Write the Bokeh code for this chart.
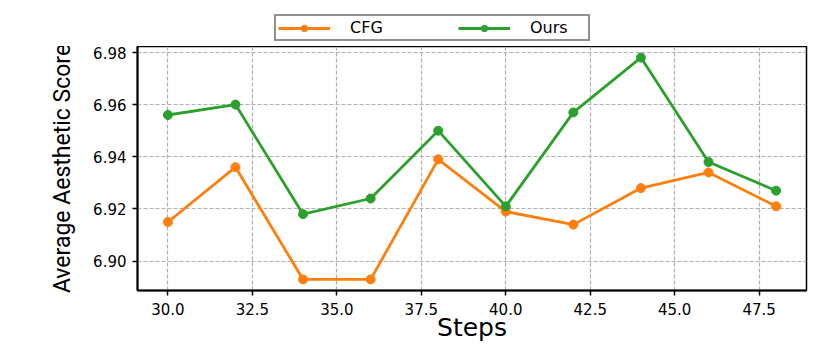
from bokeh.plotting import figure
from bokeh.layouts import column
from bokeh.models import FixedTicker, NumeralTickFormatter, Legend, LegendItem, Range1d
from bokeh.embed import file_html
from bokeh.resources import INLINE

steps = [30, 32, 34, 36, 38, 40, 42, 44, 46, 48]
cfg = [6.915, 6.936, 6.893, 6.893, 6.939, 6.919, 6.914, 6.928, 6.934, 6.921]
ours = [6.956, 6.960, 6.918, 6.924, 6.950, 6.921, 6.957, 6.978, 6.938, 6.927]
x_ticks = [30.0, 32.5, 35.0, 37.5, 40.0, 42.5, 45.0, 47.5]
y_ticks = [6.90, 6.92, 6.94, 6.96, 6.98]

ORANGE = "#ff7f0e"
GREEN = "#2ca02c"

# main chart
p = figure(width=830, height=302, output_backend="svg", toolbar_location=None,
           x_range=Range1d(29.1, 48.9), y_range=Range1d(6.88875, 6.98225),
           min_border_left=137, min_border_right=24, min_border_top=0, min_border_bottom=58)

p.line(steps, cfg, line_color=ORANGE, line_width=2.8)
p.scatter(steps, cfg, size=9, fill_color=ORANGE, line_color=ORANGE)
p.line(steps, ours, line_color=GREEN, line_width=2.8)
p.scatter(steps, ours, size=9, fill_color=GREEN, line_color=GREEN)

p.xaxis.ticker = FixedTicker(ticks=x_ticks)
p.yaxis.ticker = FixedTicker(ticks=y_ticks)
p.xaxis.formatter = NumeralTickFormatter(format="0.0")
p.yaxis.formatter = NumeralTickFormatter(format="0.00")

for ax in (p.xaxis[0], p.yaxis[0]):
    ax.axis_line_color = "black"
    ax.axis_line_width = 2
    ax.major_tick_line_color = "black"
    ax.major_tick_line_width = 1.5
    ax.major_tick_out = 5
    ax.major_tick_in = 0
    ax.minor_tick_line_color = None
    ax.major_label_text_font = "DejaVu Sans"
    ax.major_label_text_font_size = "15px"
    ax.major_label_text_color = "black"
    ax.axis_label_text_color = "black"

p.xaxis.axis_label = "Steps"
p.xaxis.axis_label_text_font = "DejaVu Sans"
p.xaxis.axis_label_text_font_size = "25px"
p.xaxis.axis_label_text_font_style = "normal"
p.xaxis.axis_label_standoff = -5
p.xaxis.major_label_standoff = 7

p.yaxis.axis_label = "Average Aesthetic Score"
p.yaxis.axis_label_text_font = "Roboto"
p.yaxis.axis_label_text_font_size = "23px"
p.yaxis.axis_label_text_font_style = "normal"
p.yaxis.axis_label_standoff = 14
p.yaxis.major_label_standoff = 6

p.xgrid.ticker = FixedTicker(ticks=x_ticks)
p.ygrid.ticker = FixedTicker(ticks=y_ticks)
for g in (p.xgrid[0], p.ygrid[0]):
    g.grid_line_color = "#b0b0b0"
    g.grid_line_dash = "4 2"
    g.grid_line_width = 1.2

p.outline_line_color = "black"
p.outline_line_width = 1.5
p.background_fill_color = "white"
p.border_fill_color = "white"

# legend strip above the chart (its own copies of the series, kept out of view)
top = figure(width=830, height=46, output_backend="svg", toolbar_location=None,
             x_range=Range1d(0, 1), y_range=Range1d(0, 1),
             min_border_left=0, min_border_right=0, min_border_top=0, min_border_bottom=0)
top.axis.visible = False
top.grid.visible = False
top.outline_line_color = None
top.border_fill_color = "white"
l1 = top.line(steps, cfg, line_color=ORANGE, line_width=2.8)
m1 = top.scatter(steps, cfg, size=9, fill_color=ORANGE, line_color=ORANGE)
l2 = top.line(steps, ours, line_color=GREEN, line_width=2.8)
m2 = top.scatter(steps, ours, size=9, fill_color=GREEN, line_color=GREEN)

legend = Legend(items=[LegendItem(label="CFG", renderers=[l1, m1]),
                       LegendItem(label="Ours", renderers=[l2, m2])],
                orientation="horizontal", location=(137, 5))
legend.border_line_color = "#222222"
legend.border_line_width = 2
legend.label_text_font = "DejaVu Sans"
legend.label_text_font_size = "16px"
legend.label_text_color = "black"
legend.label_width = 56
legend.label_height = 16
legend.glyph_width = 52
legend.glyph_height = 16
legend.label_standoff = 20
legend.spacing = 52
legend.padding = 2
legend.margin = 0
legend.background_fill_color = "white"
top.add_layout(legend, "center")

layout = column(top, p, spacing=0)
open("out.html", "w").write(file_html(layout, INLINE))
